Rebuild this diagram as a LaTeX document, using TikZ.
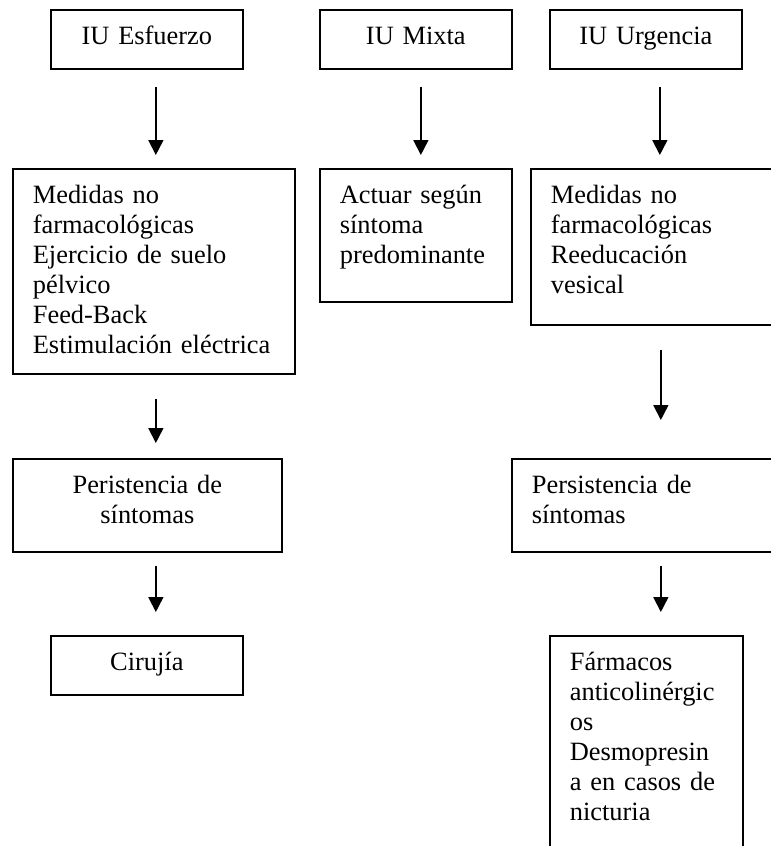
\documentclass[tikz,border=0pt]{standalone}
\usepackage{fontspec}
\setmainfont{Liberation Serif}
\usetikzlibrary{arrows.meta,positioning}

\begin{document}
\begin{tikzpicture}[x=0.5pt, y=-0.5pt, every node/.style={font=\fontsize{13.2}{15}\selectfont}]
  % Box and arrow styles
  \tikzstyle{box} = [rectangle, draw=black, line width=0.85pt, anchor=north west, inner xsep=10pt, inner ysep=0pt, text height=17.5pt]
  \tikzstyle{headbox} = [box, align=center, text width=76pt, text depth=12pt]
  \tikzstyle{stepbox} = [box, align=left]
  \tikzstyle{flow} = [line width=0.85pt, -{Triangle[width=7.5pt,length=7.5pt]}]

  \useasboundingbox (0,0) rectangle (771,846);
  \clip (0,0) rectangle (771,846);

  % Types of incontinence
  \node[headbox] (esfuerzo) at (50,9) {IU Esfuerzo};
  \node[headbox] (mixta) at (319,9) {IU Mixta};
  \node[headbox] (urgencia) at (549,9) {IU Urgencia};

  % First measures
  \node[stepbox, text width=121pt, text depth=85pt] (medidasE) at (12,168) {Medidas no\\farmacológicas\\Ejercicio de suelo\\pélvico\\Feed-Back\\Estimulación eléctrica};
  \node[stepbox, text width=76pt, text depth=49pt] (actuar) at (319,168) {Actuar según\\síntoma\\predominante};
  \node[stepbox, text width=125pt, text depth=60.5pt] (medidasU) at (530,168) {Medidas no\\farmacológicas\\Reeducación\\vesical};

  % Persistence
  \node[stepbox, align=center, text width=114.5pt, text depth=29pt] (persisE) at (12,458) {Peristencia de\\síntomas};
  \node[stepbox, text width=125pt, text depth=29pt] (persisU) at (511,458) {Persistencia de\\síntomas};

  % Last step
  \node[headbox] (cirujia) at (50,635) {Cirujía};
  \node[stepbox, text width=76.5pt, text depth=110pt] (farmacos) at (549,635) {Fármacos\\anticolinérgic\\os\\Desmopresin\\a en casos de\\nicturia};

  % Arrows
  \draw[flow, shorten <=8.5pt, shorten >=6.5pt] ([xshift=4.5pt]esfuerzo.south) -- ([xshift=4.5pt]esfuerzo.south |- medidasE.north);
  \draw[flow, shorten <=8.5pt, shorten >=6.5pt] ([xshift=2.5pt]mixta.south) -- ([xshift=2.5pt]mixta.south |- actuar.north);
  \draw[flow, shorten <=8.5pt, shorten >=6.5pt] ([xshift=7pt]urgencia.south) -- ([xshift=7pt]urgencia.south |- medidasU.north);

  \draw[flow, shorten <=12pt, shorten >=7.5pt] ([xshift=1pt]medidasE.south) -- ([xshift=1pt]medidasE.south |- persisE.north);
  \draw[flow, shorten <=12pt, shorten >=19pt] ([xshift=7.5pt]urgencia.south |- medidasU.south) -- ([xshift=7.5pt]urgencia.south |- persisU.north);

  \draw[flow, shorten <=6.5pt, shorten >=11.5pt] ([xshift=4.25pt]persisE.south) -- ([xshift=4.25pt]persisE.south |- cirujia.north);
  \draw[flow, shorten <=6.5pt, shorten >=11.5pt] ([xshift=7.5pt]urgencia.south |- persisU.south) -- ([xshift=7.5pt]urgencia.south |- farmacos.north);

\end{tikzpicture}
\end{document}
